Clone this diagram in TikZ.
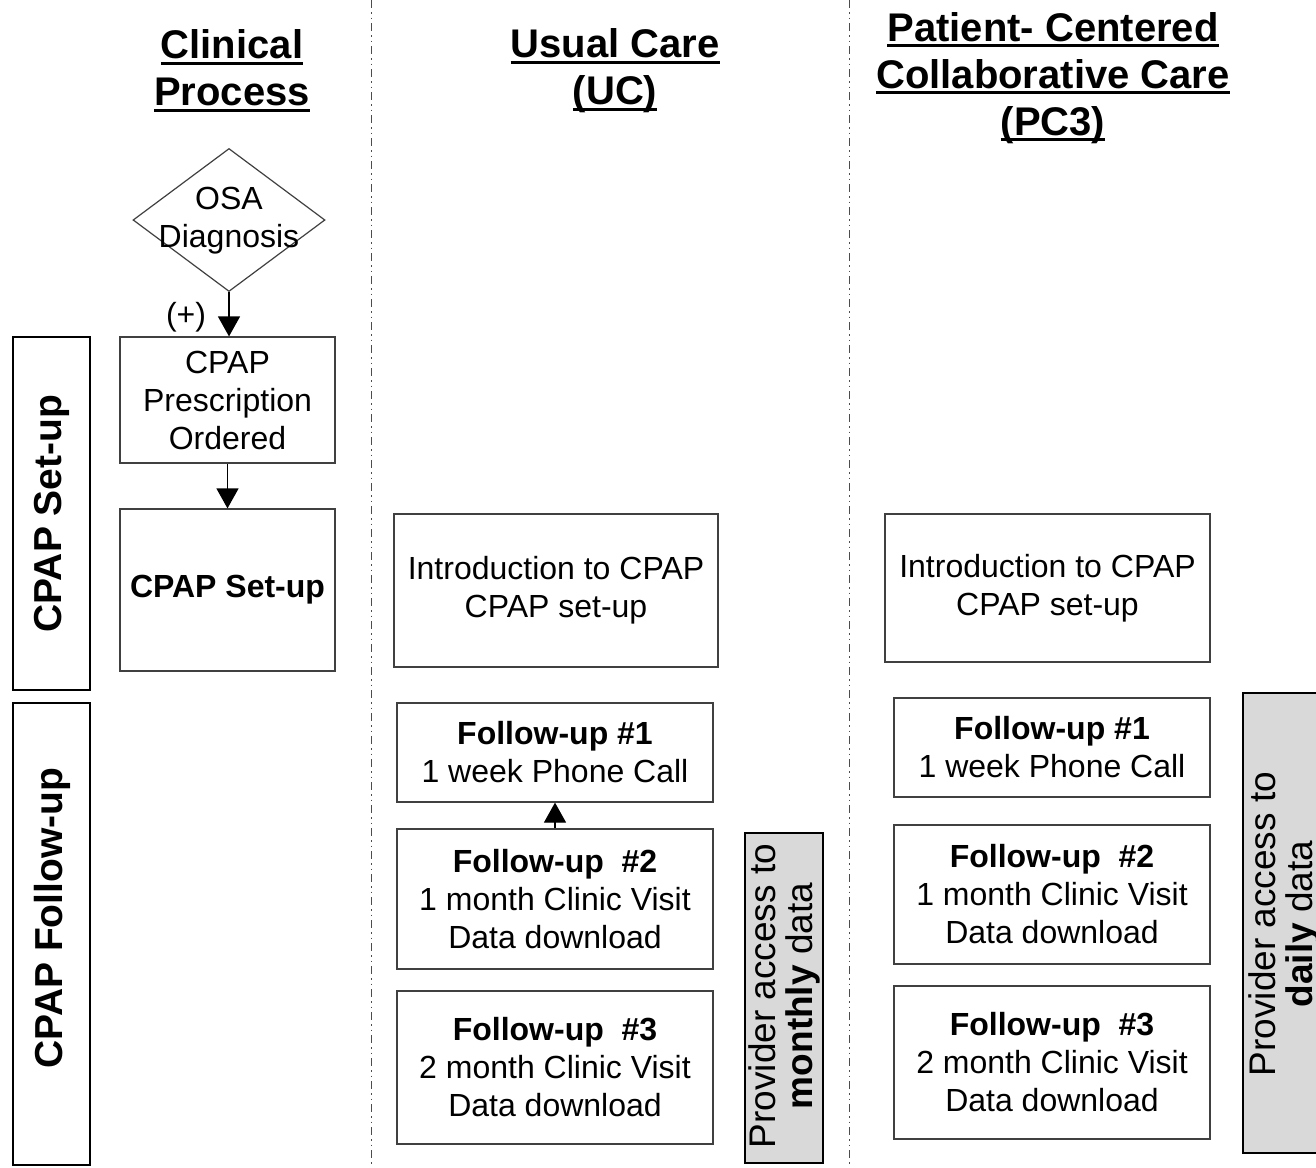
\documentclass[tikz,border=0pt]{standalone}
\usepackage{fontspec}
\setmainfont{Liberation Sans}
\usetikzlibrary{shapes.geometric,arrows.meta}
\newcommand\ntxt{\fontsize{32}{38}\selectfont}
\newcommand\gtxt{\fontsize{37}{37}\selectfont}
\newcommand\htxt{\fontsize{40}{47}\selectfont\bfseries}
\newcommand\vtxt{\fontsize{39}{45}\selectfont\bfseries}
\newcommand\myul[1]{\setbox0\hbox{#1}\rlap{\rule[-6pt]{\wd0}{3pt}}\box0}
\begin{document}
\begin{tikzpicture}[x=1pt,y=-1pt,
  box/.style={draw=black!75, line width=1.2pt, align=center, inner sep=0pt, font=\ntxt},
  sidebox/.style={draw=black, line width=2.5pt, inner sep=0pt},
  graybox/.style={draw=black, line width=2pt, fill=black!15, inner sep=0pt},
  arr/.style={-{Triangle[width=22pt,length=20pt]}, line width=1.2pt},
  head/.style={align=center, font=\htxt},
  vlabel/.style={rotate=90, align=center, font=\vtxt},
  glabel/.style={rotate=90, align=center, font=\gtxt},
  sepline/.style={black!70, line width=1pt, dash pattern=on 8pt off 4pt on 1.5pt off 4pt on 1.5pt off 4pt}]
\useasboundingbox (0,0) rectangle (1316,1167);
\clip (0,0) rectangle (1316,1167);
\fill[white] (0,0) rectangle (1316,1167);

% separators
\draw[sepline] (371,0) -- (371,1167);
\draw[sepline] (849,0) -- (849,1167);

% headings
\node[head] (h1) at (232,71) {\myul{Clinical}\\\myul{Process}};
\node[head] (h2) at (615,71) {\myul{Usual Care}\\\myul{(UC)}};
\node[head] (h3) at (1053,78) {\myul{Patient- Centered}\\\myul{Collaborative Care}\\\myul{(PC3)}};

% side boxes
\node[sidebox, minimum width=77pt, minimum height=353pt] (side1) at (51.5,513.5) {};
\node[vlabel] (side1t) at (52,513.5) {CPAP Set-up};
\node[sidebox, minimum width=77pt, minimum height=462pt] (side2) at (51.5,934) {};
\node[vlabel] (side2t) at (52,918) {CPAP Follow-up};

% clinical process column
\node[diamond, draw=black!75, line width=1.2pt, inner sep=0pt, minimum width=192pt, minimum height=143pt] (osa) at (229,220) {};
\node[font=\ntxt, align=center, inner sep=0pt] (osat) at (229,221) {OSA\\Diagnosis};
\node[box, minimum width=215pt, minimum height=126pt] (presc) at (227.5,400) {CPAP\\Prescription\\Ordered};
\node[box, minimum width=215pt, minimum height=162pt] (setup) at (227.5,590) {\textbf{CPAP Set-up}};
\draw[arr] (osa.south) -- (osa.south |- presc.north);
\node[font=\ntxt, inner sep=0pt] (plus) at (186,317) {(+)};
\draw[arr] (presc.south) -- (presc.south |- setup.north);

% usual care column
\node[box, minimum width=324pt, minimum height=153pt] (ucintro) at (556,590.5) {Introduction to CPAP\\CPAP set-up};
\node[box, minimum width=316pt, minimum height=99pt] (ucf1) at (555,752.5) {\textbf{Follow-up \#1}\\1 week Phone Call};
\node[box, minimum width=316pt, minimum height=140pt] (ucf2) at (555,899) {\textbf{Follow-up~ \#2}\\1 month Clinic Visit\\Data download};
\node[box, minimum width=316pt, minimum height=153pt] (ucf3) at (555,1067.5) {\textbf{Follow-up~ \#3}\\2 month Clinic Visit\\Data download};
\draw[arr] (ucf2.north) -- (ucf1.south);
\node[graybox, minimum width=78pt, minimum height=330pt] (monthly) at (784,998) {};
\node[glabel] (monthlyt) at (784,996) {Provider access to\\\textbf{monthly} data};

% PC3 column
\node[box, minimum width=325pt, minimum height=148pt] (pcintro) at (1047.5,588) {Introduction to CPAP\\CPAP set-up};
\node[box, minimum width=316pt, minimum height=99pt] (pcf1) at (1052,747.5) {\textbf{Follow-up \#1}\\1 week Phone Call};
\node[box, minimum width=316pt, minimum height=139pt] (pcf2) at (1052,894.5) {\textbf{Follow-up~ \#2}\\1 month Clinic Visit\\Data download};
\node[box, minimum width=316pt, minimum height=153pt] (pcf3) at (1052,1062.5) {\textbf{Follow-up~ \#3}\\2 month Clinic Visit\\Data download};
\node[graybox, minimum width=82pt, minimum height=460pt] (daily) at (1284,923) {};
\node[glabel] (dailyt) at (1284,924) {Provider access to\\\textbf{daily} data};
\end{tikzpicture}
\end{document}
